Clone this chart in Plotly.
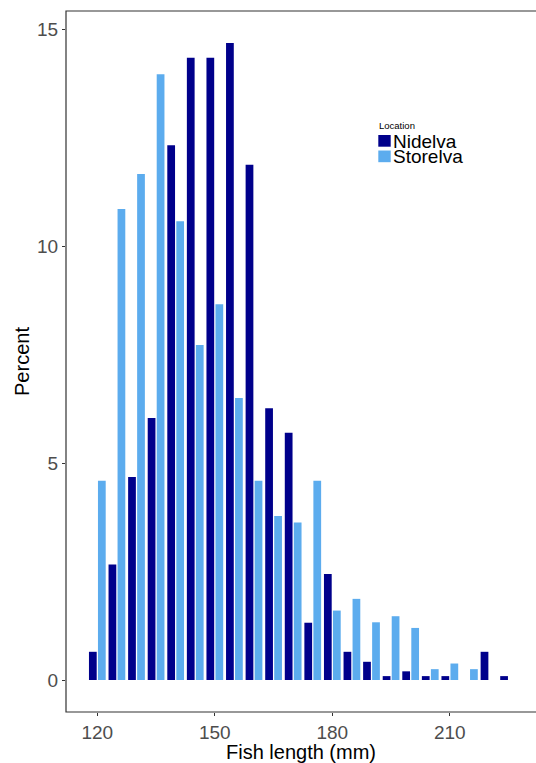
import plotly.graph_objects as go

# Bin centres (mm), 5 mm bins
lengths = [120, 125, 130, 135, 140, 145, 150, 155, 160, 165, 170,
           175, 180, 185, 190, 195, 200, 205, 210, 215, 220, 225]

nidelva = [0.65, 2.66, 4.68, 6.04, 12.32, 14.34, 14.34, 14.68, 11.87, 6.26, 5.70,
           1.32, 2.44, 0.65, 0.42, 0.09, 0.20, 0.09, 0.09, 0.0, 0.65, 0.09]
storelva = [4.59, 10.85, 11.66, 13.96, 10.57, 7.72, 8.66, 6.50, 4.59, 3.78, 3.63,
            4.59, 1.60, 1.87, 1.33, 1.47, 1.20, 0.25, 0.38, 0.25, 0.0, 0.0]

x_ticks = [120, 150, 180, 210]
y_ticks = [0, 5, 10, 15]

series_names = ["Nidelva", "Storelva"]
series_colors = ["#00008B", "#5CACEE"]
legend_title = "Location"

FONT = "Liberation Sans, Arial, Helvetica, sans-serif"

# plot-area geometry in pixels (for the manual legend)
L, R, T, B = 66, 536, 11, 712
W, H = R - L, B - T
def px(x): return (x - L) / W
def py(y): return (B - y) / H

fig = go.Figure()
for name, vals, col in zip(series_names, [nidelva, storelva], series_colors):
    fig.add_trace(go.Bar(x=lengths, y=vals, name=name,
                         marker=dict(color=col, line=dict(width=0))))

fig.update_layout(
    width=536, height=763,
    margin=dict(l=L, r=0, t=T, b=763 - B, autoexpand=False),
    paper_bgcolor="white", plot_bgcolor="white",
    barmode="group", bargap=0.08, bargroupgap=0.14,
    font=dict(family=FONT, color="black"),
    showlegend=False,
)

fig.update_xaxes(
    range=[112, 232], tickvals=x_ticks, ticktext=[str(v) for v in x_ticks],
    showgrid=False, zeroline=False, automargin=False,
    ticks="outside", ticklen=3, tickwidth=1, tickcolor="#333333",
    tickfont=dict(size=19, color="#4D4D4D"),
    showline=False,
    title=dict(text="Fish length (mm)", font=dict(size=20, color="black"), standoff=0),
)
fig.update_yaxes(
    range=[-0.737, 15.415], tickvals=y_ticks, ticktext=[str(v) for v in y_ticks],
    showgrid=False, zeroline=False, automargin=False,
    ticks="outside", ticklen=3, tickwidth=1, tickcolor="#333333",
    tickfont=dict(size=19, color="#4D4D4D"),
    showline=False,
    title=dict(text="Percent", font=dict(size=20, color="black"), standoff=2),
)

# Panel border (right side extends past the canvas as in the reference)
fig.add_shape(type="rect", xref="paper", yref="paper", x0=0, x1=1.02, y0=0, y1=1,
              line=dict(color="#333333", width=1.2), fillcolor="rgba(0,0,0,0)", layer="above")

# Manual legend (compact, as in the reference)
fig.add_annotation(xref="paper", yref="paper", x=px(377), y=py(125.5), text=legend_title,
                   showarrow=False, xanchor="left", yanchor="middle",
                   font=dict(size=9.5, color="black"))
for i, (name, col) in enumerate(zip(series_names, series_colors)):
    top = 135 + i * 15.5
    fig.add_shape(type="rect", xref="paper", yref="paper",
                  x0=px(378.3), x1=px(390.7), y0=py(top + 11.7), y1=py(top),
                  line=dict(width=0), fillcolor=col)
    fig.add_annotation(xref="paper", yref="paper", x=px(390.5), y=py(top + 6.5), text=name,
                       showarrow=False, xanchor="left", yanchor="middle",
                       font=dict(size=19, color="black"))

fig.write_html("out.html", config={"displayModeBar": False},
               post_script="document.body.style.margin='0';")
